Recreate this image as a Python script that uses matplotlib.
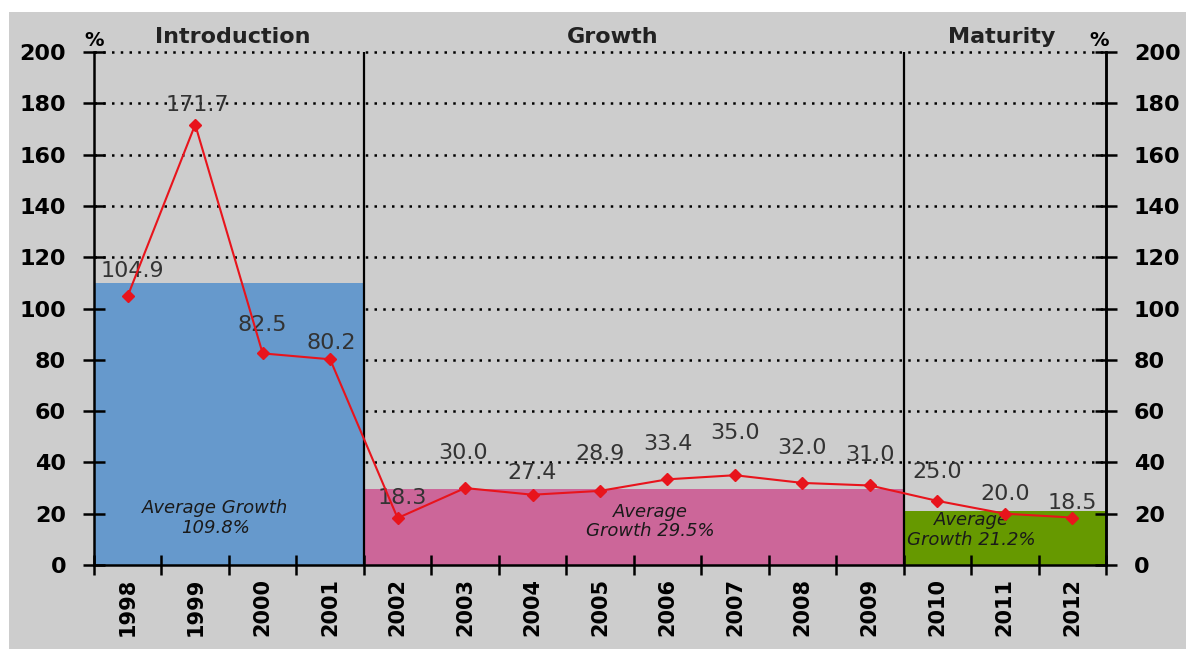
import matplotlib
matplotlib.use("Agg")
import matplotlib.pyplot as plt
from matplotlib.patches import Rectangle

# ---- data ----
years = ["1998", "1999", "2000", "2001", "2002", "2003", "2004", "2005",
         "2006", "2007", "2008", "2009", "2010", "2011", "2012"]
growth = [104.9, 171.7, 82.5, 80.2, 18.3, 30.0, 27.4, 28.9,
          33.4, 35.0, 32.0, 31.0, 25.0, 20.0, 18.5]

phase_names = ["Introduction", "Growth", "Maturity"]
phase_start = [0, 4, 12]
phase_len = [4, 8, 3]
phase_avg = [109.8, 29.5, 21.2]
phase_labels = ["Average Growth\n109.8%", "Average\nGrowth 29.5%", "Average\nGrowth 21.2%"]
y_ticks = [0, 20, 40, 60, 80, 100, 120, 140, 160, 180, 200]

# ---- layout / style ----
phase_colors = ["#6699cc", "#cc6699", "#669900"]
phase_title_x = [1.56, 7.19, 12.95]
phase_label_pos = [(1.3, 18.3), (7.75, 17.0), (12.5, 13.6)]
label_dy = [25, 20, 28, 16, 20, 35, 22, 37, 35, 42, 35, 30, 29, 20, 15]
label_dx = [5, 2, 0, 1, 5, -2, 0, 0, 0, 0, 0, 0, 0, 0, 0]
bg = "#cdcdcd"
line_red = "#e8141c"

plt.rcParams["font.family"] = ["DejaVu Sans"]

fig = plt.figure(figsize=(11.86, 6.49), dpi=100, facecolor="white")
fig.patches.append(Rectangle((9 / 1186, 0), 1 - 9 / 1186, 1 - 12 / 649,
                             transform=fig.transFigure, facecolor=bg,
                             edgecolor="none", zorder=-10))

ax = fig.add_axes([94 / 1186, 84 / 649, (1106 - 94) / 1186, (565 - 52) / 649])
ax.set_facecolor("none")
n = len(years)
xs = list(range(n))
ax.set_xlim(-0.5, n - 0.5)
ax.set_ylim(0, 200)

# dotted horizontal gridlines
for v in y_ticks[1:]:
    ax.axhline(v, color="black", lw=1.8, linestyle=(0, (1, 2.5)), zorder=0.5,
               clip_on=False)

# phase bands
for s, ln, avg, col in zip(phase_start, phase_len, phase_avg, phase_colors):
    ax.bar(s - 0.5 + ln / 2, avg, width=ln, color=col, edgecolor="none", zorder=1)

# phase dividers
for s in phase_start[1:]:
    ax.axvline(s - 0.5, color="black", lw=1.6, zorder=2)

# phase titles and average labels
for name, tx in zip(phase_names, phase_title_x):
    ax.text(tx, 1.03, name, transform=ax.get_xaxis_transform(), ha="center",
            va="center", fontsize=16, fontweight="bold", color="#222222")
for lbl, (lx, ly) in zip(phase_labels, phase_label_pos):
    ax.text(lx, ly, lbl, ha="center", va="center", fontsize=13,
            fontstyle="italic", color="#1a1a1a", linespacing=1.1, zorder=3)

# data labels (under the line)
for i, v in enumerate(growth):
    ax.annotate(f"{v:.1f}", (xs[i], v), xytext=(label_dx[i], label_dy[i]),
                textcoords="offset pixels", ha="center", va="center",
                fontsize=16, color="#333333", zorder=3)

ax.plot(xs, growth, color=line_red, lw=1.5, marker="D", markersize=6.5,
        zorder=4, clip_on=False)

# axes styling
ax.spines["top"].set_visible(False)
for sp in ["left", "right", "bottom"]:
    ax.spines[sp].set_linewidth(1.8)
ax.set_xticks([i - 0.5 for i in range(n + 1)])
ax.set_xticklabels([])
ax.set_xticks(xs, minor=True)
ax.set_xticklabels(years, minor=True, rotation=90, fontsize=15, fontweight="bold")
ax.tick_params(axis="x", which="major", direction="inout", length=14, width=1.8)
ax.tick_params(axis="x", which="minor", length=0, pad=9)

ax.set_yticks(y_ticks)
ax.set_yticklabels([str(t) for t in y_ticks], fontsize=16, fontweight="bold")
ax.tick_params(axis="y", direction="inout", length=16, width=1.8, pad=12)

ax2 = ax.twinx()
ax2.set_ylim(0, 200)
ax2.set_yticks(y_ticks)
ax2.set_yticklabels([str(t) for t in y_ticks], fontsize=16, fontweight="bold")
ax2.tick_params(axis="y", direction="inout", length=16, width=1.8, pad=12)
for sp in ["top", "left", "bottom"]:
    ax2.spines[sp].set_visible(False)
ax2.spines["right"].set_linewidth(1.8)

ax.text(-0.5, 1.023, "%", transform=ax.get_xaxis_transform(), ha="center",
        va="center", fontsize=14, fontweight="bold")
ax.text(n - 0.6, 1.023, "%", transform=ax.get_xaxis_transform(), ha="center",
        va="center", fontsize=14, fontweight="bold")

fig.savefig("out.png", dpi=100, facecolor="white")
